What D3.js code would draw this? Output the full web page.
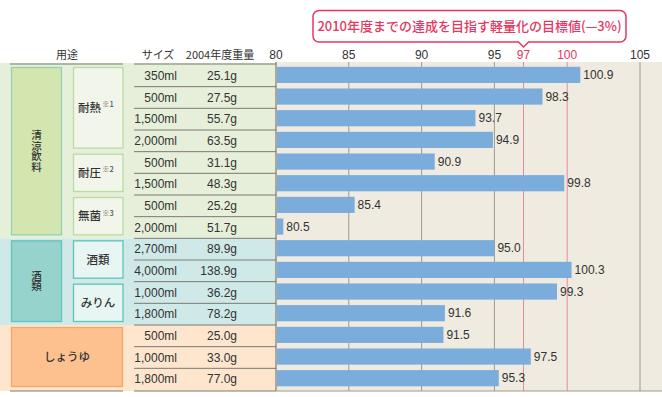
<!DOCTYPE html>
<html>
<head>
<meta charset="utf-8">
<script src="https://cdn.jsdelivr.net/npm/d3@7"></script>
<style>
  body { margin: 0; background: #fff; }
  svg { display: block; font-family: "Noto Sans CJK JP", sans-serif; }
  .num { font-family: "Liberation Sans", Arial, sans-serif; }
  .vert { writing-mode: vertical-rl; text-orientation: upright; }
</style>
</head>
<body>
<svg id="chart" width="662" height="397"></svg>
<script>
// 用途・サイズ・重量・値（行ごと）
var useGroups = ['清涼飲料','清涼飲料','清涼飲料','清涼飲料','清涼飲料','清涼飲料','清涼飲料','清涼飲料',
                 '酒類','酒類','酒類','酒類','しょうゆ','しょうゆ','しょうゆ'];
var subGroups = ['耐熱','耐熱','耐熱','耐熱','耐圧','耐圧','無菌','無菌',
                 '酒類','酒類','みりん','みりん','','',''];
var subNotes = {'耐熱': '※1', '耐圧': '※2', '無菌': '※3'};
var sizes = ['350ml','500ml','1,500ml','2,000ml','500ml','1,500ml','500ml','2,000ml',
             '2,700ml','4,000ml','1,000ml','1,800ml','500ml','1,000ml','1,800ml'];
var weights = ['25.1g','27.5g','55.7g','63.5g','31.1g','48.3g','25.2g','51.7g',
               '89.9g','138.9g','36.2g','78.2g','25.0g','33.0g','77.0g'];
var values = [100.9, 98.3, 93.7, 94.9, 90.9, 99.8, 85.4, 80.5,
              95.0, 100.3, 99.3, 91.6, 91.5, 97.5, 95.3];
var ticks = [80, 85, 90, 95, 97, 100, 105];
var targetTicks = [97, 100];
var calloutText = '2010年度までの達成を目指す軽量化の目標値(—3%)';

var groupStyle = {
  '清涼飲料': { bg: '#e6efd9', fill: '#d3e6b0', stroke: '#8fd3b3', subFill: '#f2f6ea', subStroke: '#b9dc9f' },
  '酒類':     { bg: '#cfe9e8', fill: '#97d3cd', stroke: '#5ec4ba', subFill: '#e7f5f3', subStroke: '#5ec4ba' },
  'しょうゆ': { bg: '#fde5ce', fill: '#fcc18e', stroke: '#f5a865' }
};

var svg = d3.select('#chart');

var x = d3.scaleLinear().domain([80, 105]).range([276, 640]);
var y = d3.scaleBand().domain(d3.range(values.length)).range([65, 390]);
var bw = y.bandwidth();

// 連続する同じラベルをまとめる
function spans(arr){
  var out = [];
  arr.forEach(function(d, i){
    if (out.length && out[out.length-1].name == d) { out[out.length-1].end = i; }
    else { out.push({ name: d, start: i, end: i, group: useGroups[i] }); }
  });
  return out;
}
var useSpans = spans(useGroups);
var subSpans = spans(subGroups).filter(function(s){ return s.name != ''; });

// 背景
svg.append('rect')
  .attr('x', x(80)).attr('y', 62)
  .attr('width', 662 - x(80)).attr('height', 329)
  .attr('fill', '#efebe0');

svg.selectAll('.bg').data(useSpans).enter().append('rect')
  .attr('x', 0)
  .attr('y', function(d){ return d.start == 0 ? 63 : y(d.start); })
  .attr('width', x(80))
  .attr('height', function(d){ return y(d.end) + bw - (d.start == 0 ? 63 : y(d.start)) + (d.end == values.length-1 ? 1 : 0); })
  .attr('fill', function(d){ return groupStyle[d.name].bg; });

// 用途の箱
var bigSpans = useSpans.map(function(s){
  return { name: s.name, start: s.start, end: s.end, wide: s.name == 'しょうゆ' };
});
svg.selectAll('.big').data(bigSpans).enter().append('rect')
  .attr('x', 11.5)
  .attr('y', function(d){ return y(d.start) + 2.5; })
  .attr('width', function(d){ return d.wide ? 111 : 50; })
  .attr('height', function(d){ return y(d.end) + bw - y(d.start) - 6; })
  .attr('fill', function(d){ return groupStyle[d.name].fill; })
  .attr('stroke', function(d){ return groupStyle[d.name].stroke; })
  .attr('stroke-width', 1.3);

bigSpans.forEach(function(d){
  var cy = y(d.start) + 2.5 + (y(d.end) + bw - y(d.start) - 6) / 2;
  if (d.wide) {
    svg.append('text').attr('x', 67).attr('y', cy).attr('dy', '0.35em')
      .attr('text-anchor', 'middle').attr('font-size', 11.5).attr('fill', '#333')
      .attr('font-weight', 500)
      .text(d.name);
  } else {
    // 縦書き
    svg.append('text').attr('class', 'vert')
      .attr('x', 36.5).attr('y', cy)
      .attr('text-anchor', 'middle')
      .attr('font-size', 10.5).attr('fill', '#333').attr('font-weight', 500)
      .text(d.name);
  }
});

// 細分類の箱
svg.selectAll('.sub').data(subSpans).enter().append('rect')
  .attr('x', 73.5)
  .attr('y', function(d){ return y(d.start) + 2.5; })
  .attr('width', 49.5)
  .attr('height', function(d){ return y(d.end) + bw - y(d.start) - 6; })
  .attr('fill', function(d){ return groupStyle[d.group].subFill; })
  .attr('stroke', function(d){ return groupStyle[d.group].subStroke; })
  .attr('stroke-width', 1.3);

subSpans.forEach(function(d){
  var cy = y(d.start) + 2.5 + (y(d.end) + bw - y(d.start) - 6) / 2;
  var note = subNotes[d.name];
  var t = svg.append('text').attr('x', note ? 96 : 98).attr('y', cy).attr('dy', '0.35em')
    .attr('text-anchor', 'middle').attr('font-size', 11.5).attr('fill', '#333')
    .attr('font-weight', 500);
  t.append('tspan').text(d.name);
  if (note) {
    t.append('tspan').attr('font-size', 7.5).attr('dy', '-0.6em').attr('dx', 1)
      .attr('fill', '#555').text(note);
  }
});

// 表の罫線
var rowLines = d3.range(values.length + 1);
svg.selectAll('.rowline').data(rowLines).enter().append('line')
  .attr('x1', 134).attr('x2', x(80))
  .attr('y1', function(i){ return i == values.length ? 391 : (i == 0 ? 64 : y(i)); })
  .attr('y2', function(i){ return i == values.length ? 391 : (i == 0 ? 64 : y(i)); })
  .attr('stroke', '#7d7a72').attr('stroke-width', 1);
[64, 391].forEach(function(yy){
  svg.append('line').attr('x1', 10).attr('x2', 123).attr('y1', yy).attr('y2', yy)
    .attr('stroke', '#7d7a72').attr('stroke-width', 1);
});

// サイズ・重量
svg.selectAll('.size').data(sizes).enter().append('text')
  .attr('class', 'num')
  .attr('x', 177).attr('y', function(d, i){ return y(i) + bw / 2; })
  .attr('dy', '0.35em').attr('text-anchor', 'end')
  .attr('font-size', 12).attr('fill', '#333')
  .text(function(d){ return d; });
svg.selectAll('.weight').data(weights).enter().append('text')
  .attr('class', 'num')
  .attr('x', 237).attr('y', function(d, i){ return y(i) + bw / 2; })
  .attr('dy', '0.35em').attr('text-anchor', 'end')
  .attr('font-size', 12).attr('fill', '#333')
  .text(function(d){ return d; });

// 見出し
[['用途', 67], ['サイズ', 158], ['2004年度重量', 220]].forEach(function(h){
  svg.append('text').attr('x', h[1]).attr('y', 55).attr('dy', '0.35em')
    .attr('text-anchor', 'middle').attr('font-size', 11).attr('fill', '#333')
    .text(h[0]);
});

// 目盛線
svg.selectAll('.grid').data(ticks.slice(1)).enter().append('line')
  .attr('x1', function(d){ return x(d); }).attr('x2', function(d){ return x(d); })
  .attr('y1', 62).attr('y2', 391)
  .attr('stroke', function(d){ return targetTicks.indexOf(d) >= 0 ? '#e88aa0' : '#9e9a8f'; })
  .attr('stroke-width', 1);

// 目盛ラベル
svg.selectAll('.tick').data(ticks).enter().append('text')
  .attr('class', 'num')
  .attr('x', function(d){ return x(d); }).attr('y', 55).attr('dy', '0.35em')
  .attr('text-anchor', 'middle').attr('font-size', 12)
  .attr('fill', function(d){ return targetTicks.indexOf(d) >= 0 ? '#e8365f' : '#333'; })
  .text(function(d){ return d; });

// 棒
svg.selectAll('.bar').data(values).enter().append('rect')
  .attr('x', x(80) + 1)
  .attr('y', function(d, i){ return y(i) + 1.8; })
  .attr('width', function(d){ return x(d) - x(80) - 1; })
  .attr('height', bw - 5.5)
  .attr('fill', '#7aaddc');

svg.selectAll('.val').data(values).enter().append('text')
  .attr('class', 'num')
  .attr('x', function(d){ return x(d) + 3; })
  .attr('y', function(d, i){ return y(i) + 1.8 + (bw - 5.5) / 2; })
  .attr('dy', '0.35em').attr('font-size', 12).attr('fill', '#333')
  .text(function(d){ return d.toFixed(1); });

// 左端と下端
svg.append('line').attr('x1', x(80)).attr('x2', x(80)).attr('y1', 62).attr('y2', 391)
  .attr('stroke', '#7d7a72').attr('stroke-width', 1.2);
svg.append('line').attr('x1', x(80)).attr('x2', 662).attr('y1', 391).attr('y2', 391)
  .attr('stroke', '#9e9a8f').attr('stroke-width', 1);

// 吹き出し
var cx = x(97);
var box = { x0: 313, x1: 626, y0: 10.5, y1: 42 };
var path = d3.path();
var r = 6;
path.moveTo(box.x0 + r, box.y0);
path.lineTo(box.x1 - r, box.y0);
path.arcTo(box.x1, box.y0, box.x1, box.y0 + r, r);
path.lineTo(box.x1, box.y1 - r);
path.arcTo(box.x1, box.y1, box.x1 - r, box.y1, r);
path.lineTo(cx + 5, box.y1);
path.lineTo(cx, box.y1 + 5);
path.lineTo(cx - 5, box.y1);
path.lineTo(box.x0 + r, box.y1);
path.arcTo(box.x0, box.y1, box.x0, box.y1 - r, r);
path.lineTo(box.x0, box.y0 + r);
path.arcTo(box.x0, box.y0, box.x0 + r, box.y0, r);
path.closePath();
svg.append('path').attr('d', path.toString())
  .attr('fill', '#fff').attr('stroke', '#e8365f').attr('stroke-width', 1.5);
svg.append('text').attr('x', (box.x0 + box.x1) / 2).attr('y', (box.y0 + box.y1) / 2)
  .attr('dy', '0.35em').attr('text-anchor', 'middle')
  .attr('font-size', 13).attr('fill', '#e8365f').attr('font-weight', 500)
  .text(calloutText);
</script>
</body>
</html>
